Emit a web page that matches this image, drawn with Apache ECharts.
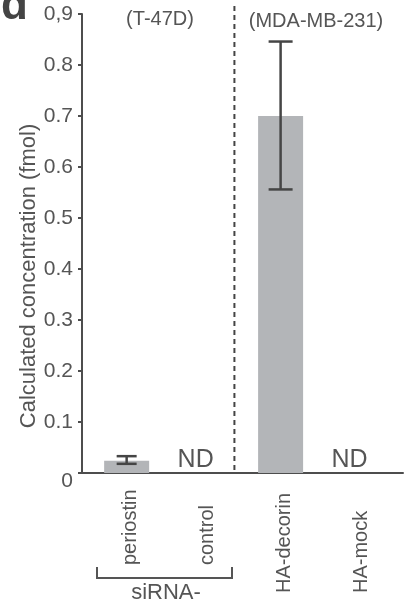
<!DOCTYPE html>
<html>
<head>
<meta charset="utf-8">
<script src="https://cdn.jsdelivr.net/npm/echarts@6/dist/echarts.min.js"></script>
<style>html,body{margin:0;padding:0;background:#fff}#c{width:405px;height:602px}</style>
</head>
<body>
<div id="c"></div>
<script>
var categories = ['periostin', 'control', 'HA-decorin', 'HA-mock'];
var values = [0.024, null, 0.700, null];
var errLow = [0.018, null, 0.556, null];
var errHigh = [0.033, null, 0.846, null];
var ndLabels = ['', 'ND', '', 'ND'];
var yTicks = ['0', '0.1', '0.2', '0.3', '0.4', '0.5', '0.6', '0.7', '0.8', '0,9'];
var cellLines = ['(T-47D)', '(MDA-MB-231)'];
var groupLabel = 'siRNA-';
var yTitle = 'Calculated concentration (fmol)';

var FONT = 'Liberation Sans, Arial, sans-serif';
var TXT = '#555555';
var AX = '#4d4d4d';

var chart = echarts.init(document.getElementById('c'), null, {renderer: 'canvas'});
chart.setOption({
  animation: false,
  backgroundColor: '#fff',
  grid: {left: 82, right: 2, top: 14, bottom: 129, containLabel: false},
  xAxis: {
    type: 'value', min: -0.58, max: 3.59,
    splitLine: {show: false},
    axisLine: {show: true, onZero: false, lineStyle: {color: AX, width: 2}},
    axisTick: {show: false},
    axisLabel: {show: false}
  },
  yAxis: {
    type: 'value', min: 0, max: 0.9, interval: 0.1,
    splitLine: {show: false},
    axisLine: {show: true, onZero: false, lineStyle: {color: AX, width: 2}},
    axisTick: {show: true, length: 4, lineStyle: {color: AX, width: 2}},
    axisLabel: {
      fontSize: 21, color: TXT, fontFamily: FONT, margin: 9,
      formatter: function (v) {
        var i = Math.round(v * 10);
        return i === 0 ? '{z|' + yTicks[0] + '}' : yTicks[i];
      },
      rich: {z: {fontSize: 21, color: TXT, fontFamily: FONT, padding: [17, 0, 0, 0]}}
    }
  },
  series: [
    {
      type: 'bar', barWidth: 45,
      data: categories.map(function (c, i) { return [i, values[i]]; }),
      itemStyle: {color: '#b3b5b8'}
    },
    {
      type: 'custom',
      data: categories.map(function (c, i) { return [i, errLow[i], errHigh[i]]; }),
      renderItem: function (params, api) {
        var l = errLow[params.dataIndex];
        if (l == null) return null;
        var lo = api.coord([api.value(0), api.value(1)]);
        var hi = api.coord([api.value(0), api.value(2)]);
        var hw = params.dataIndex === 0 ? 10 : 12;
        var st = {stroke: '#454545', lineWidth: 2.5};
        return {type: 'group', children: [
          {type: 'line', shape: {x1: lo[0], y1: lo[1], x2: hi[0], y2: hi[1]}, style: st},
          {type: 'line', shape: {x1: lo[0] - hw, y1: lo[1], x2: lo[0] + hw, y2: lo[1]}, style: st},
          {type: 'line', shape: {x1: hi[0] - hw, y1: hi[1], x2: hi[0] + hw, y2: hi[1]}, style: st}
        ]};
      },
      z: 5
    },
    {
      type: 'custom',
      data: categories.map(function (c, i) { return [i, 0]; }),
      renderItem: function (params, api) {
        var i = params.dataIndex;
        var p = api.coord([api.value(0), 0]);
        var children = [{
          type: 'text', x: p[0] + 4, y: i < 2 ? 565 : 593, rotation: Math.PI / 2,
          style: {text: categories[i], align: 'left', verticalAlign: 'middle', fontSize: 20, fill: TXT, fontFamily: FONT}
        }];
        if (ndLabels[i]) {
          children.push({type: 'text', style: {text: ndLabels[i], x: p[0] - 8, y: p[1] - 13, align: 'center', verticalAlign: 'middle', fontSize: 25, fill: TXT, fontFamily: FONT}});
        }
        return {type: 'group', children: children};
      }
    },
    {
      type: 'custom',
      data: [[1.4]],
      renderItem: function (params, api) {
        var a = api.coord([api.value(0), 0]);
        var cs = params.coordSys;
        return {type: 'line', shape: {x1: a[0], y1: cs.y - 8, x2: a[0], y2: cs.y + cs.height},
          style: {stroke: '#444', lineWidth: 2, lineDash: [5, 4]}};
      }
    }
  ],
  graphic: [
    {type: 'text', left: 1, top: -15, style: {text: 'd', fontSize: 44, fontWeight: 'bold', fill: '#444', fontFamily: FONT}},
    {type: 'text', x: 160, y: 19, style: {text: cellLines[0], fontSize: 20, fill: TXT, fontFamily: FONT, align: 'center', verticalAlign: 'middle'}},
    {type: 'text', x: 316, y: 21, style: {text: cellLines[1], fontSize: 20, fill: TXT, fontFamily: FONT, align: 'center', verticalAlign: 'middle'}},
    {type: 'text', x: 29, y: 276, rotation: Math.PI / 2, style: {text: yTitle, fontSize: 22, fill: TXT, fontFamily: FONT, align: 'center', verticalAlign: 'middle'}},
    {type: 'polyline', shape: {points: [[97, 567], [97, 578], [232, 578], [232, 567]]}, style: {stroke: '#555', lineWidth: 2, fill: null}},
    {type: 'text', x: 166, y: 593, style: {text: groupLabel, fontSize: 22, fill: TXT, fontFamily: FONT, align: 'center', verticalAlign: 'middle'}}
  ]
});
</script>
</body>
</html>
